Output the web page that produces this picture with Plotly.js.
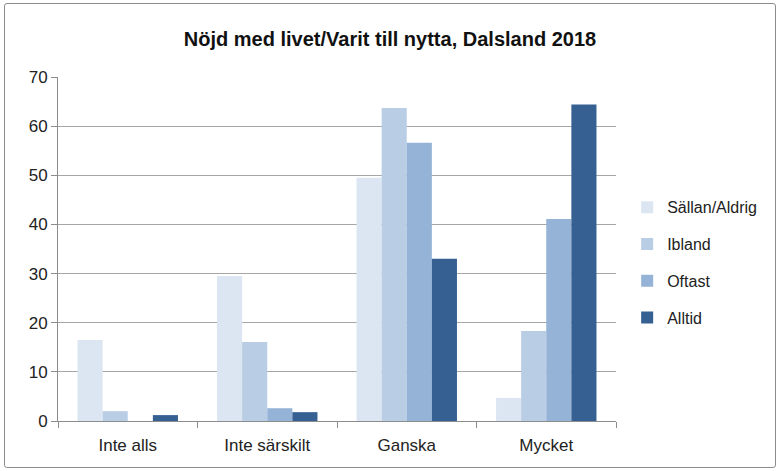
<!DOCTYPE html>
<html>
<head>
<meta charset="utf-8">
<script src="https://cdn.plot.ly/plotly-3.0.1.min.js"></script>
<style>
html,body{margin:0;padding:0;background:#fff;}
#frame{position:absolute;left:4px;top:3px;width:770px;height:463px;border:1px solid #8c8c8c;border-radius:3px;background:#fff;}
#chart{width:770px;height:463px;}
</style>
</head>
<body>
<div id="frame"><div id="chart"></div></div>
<script>
const categories = ["Inte alls", "Inte särskilt", "Ganska", "Mycket"];
const seriesNames = ["Sällan/Aldrig", "Ibland", "Oftast", "Alltid"];
const sallanAldrig = [16.5, 29.5, 49.5, 4.7];
const ibland = [2.0, 16.1, 63.7, 18.3];
const oftast = [0, 2.6, 56.6, 41.1];
const alltid = [1.2, 1.8, 33.0, 64.4];
const colors = ["#dce6f2", "#b9cde5", "#95b3d7", "#376092"];
const tickVals = [0, 10, 20, 30, 40, 50, 60, 70];

const values = [sallanAldrig, ibland, oftast, alltid];
const font = "Liberation Sans Narrow, Arial Narrow, Liberation Sans, sans-serif";
const traces = values.map((v, i) => ({
  type: "bar",
  name: seriesNames[i],
  x: categories,
  y: v,
  legendgroup: "g" + i,
  marker: {color: colors[i], line: {width: 0}},
  hoverinfo: "x+y+name"
}));

const layout = {
  width: 770, height: 463,
  margin: {l: 53, r: 159, t: 73, b: 46},
  paper_bgcolor: "rgba(0,0,0,0)",
  plot_bgcolor: "#fff",
  font: {family: font, size: 16, color: "#222"},
  title: {text: "<b>Nöjd med livet/Varit till nytta, Dalsland 2018</b>", x: 0.5, xref: "container", y: 0.925, yref: "container", yanchor: "middle", font: {family: font, size: 20, color: "#111"}},
  barmode: "group",
  bargap: 0.28,
  bargroupgap: 0,
  xaxis: {
    type: "category",
    showline: true, linecolor: "#8c8c8c", linewidth: 1,
    ticks: "outside", tickson: "boundaries", ticklen: 6, tickcolor: "#8c8c8c",
    ticklabelstandoff: 9,
    tickfont: {family: font, size: 17, color: "#222"},
    showgrid: false
  },
  yaxis: {
    range: [0, 70], tickvals: tickVals,
    showline: true, linecolor: "#8c8c8c", linewidth: 1,
    ticks: "outside", ticklen: 6, tickcolor: "#8c8c8c",
    showgrid: true, gridcolor: "#a6a6a6", gridwidth: 1,
    zeroline: false,
    tickfont: {family: font, size: 17, color: "#222"}
  },
  legend: {
    x: 1.02, xanchor: "left", y: 0.46, yanchor: "middle",
    traceorder: "grouped", tracegroupgap: 13,
    font: {family: font, size: 16, color: "#222"},
    itemwidth: 30
  },
  showlegend: true
};

Plotly.newPlot("chart", traces, layout, {displayModeBar: false, staticPlot: true});
</script>
</body>
</html>
